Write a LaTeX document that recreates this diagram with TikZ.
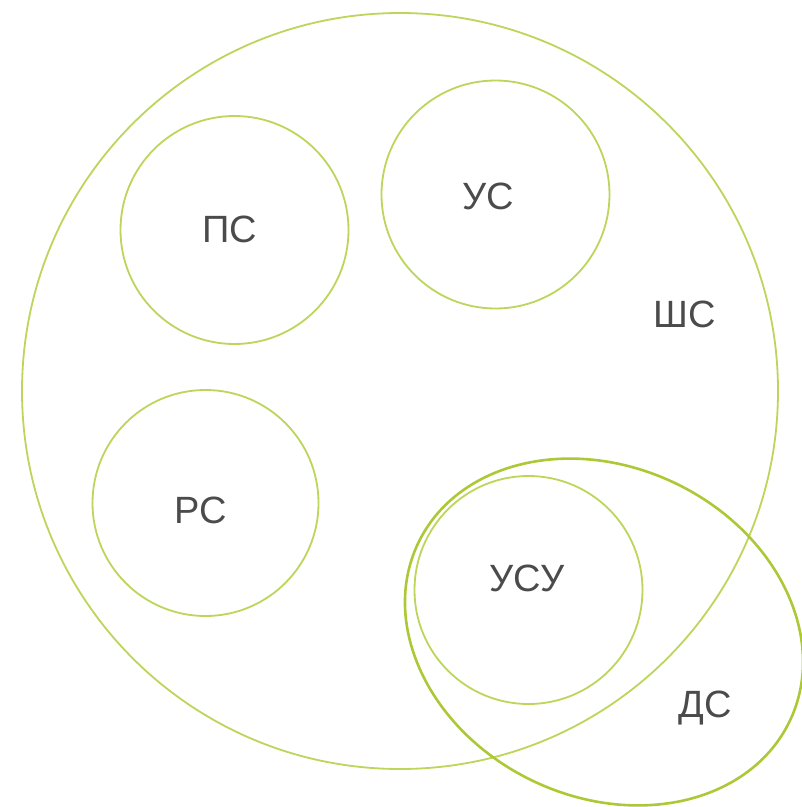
\documentclass[tikz,border=0pt]{standalone}
\usepackage{fontspec}
\setmainfont{Liberation Sans}
\definecolor{lime}{RGB}{188,213,90}
\definecolor{limedark}{RGB}{172,200,55}
\definecolor{txtgray}{RGB}{75,75,75}
\begin{document}
\begin{tikzpicture}[x=1pt,y=-1pt,
        lbl/.style={text=txtgray,font=\fontsize{38}{44}\selectfont},
        ring/.style={draw=lime,line width=1.8pt}]
        \useasboundingbox (0,0) rectangle (802,807);
        \draw[ring] (400,391) circle (378);
        \draw[ring] (234.5,230) circle (114);
        \draw[ring] (495.5,194.5) circle (114);
        \draw[ring] (205.5,503) circle (113);
        \draw[ring] (528.5,590) circle (114);
        \draw[draw=limedark,line width=2.6pt,rotate around={-25.6:(604,632)}] (604,632) ellipse (206 and 165);
        \node[lbl] (ps) at (230,229) {ПС};
        \node[lbl] (us) at (488,196) {УС};
        \node[lbl] (shs) at (685,314) {ШС};
        \node[lbl] (rs) at (201,510) {РС};
        \node[lbl] (usu) at (527,578) {УСУ};
        \node[lbl] (ds) at (705,708) {ДС};
    \end{tikzpicture}
\end{document}
